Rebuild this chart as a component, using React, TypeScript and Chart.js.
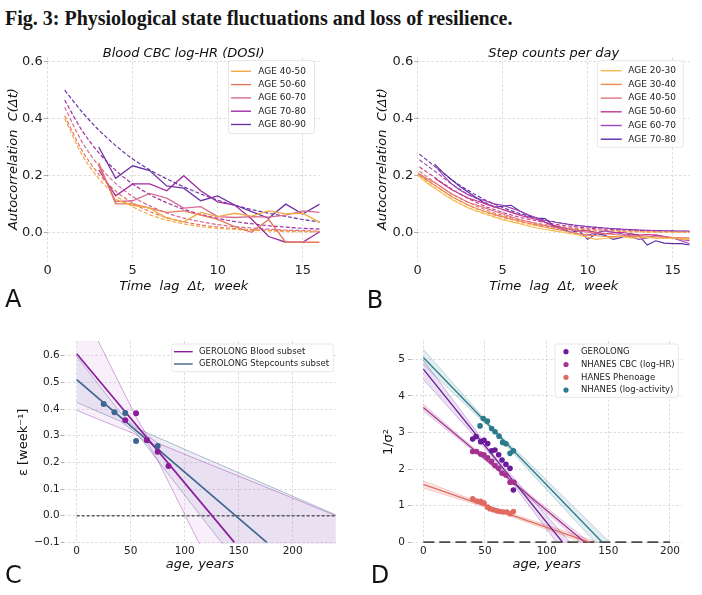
import React, { useEffect, useRef } from 'react';
import { Chart, registerables } from 'chart.js';

Chart.register(...registerables);

const SANS = '"DejaVu Sans", "Liberation Sans", sans-serif';

// ---------------- Panel A : Blood CBC log-HR (DOSI) ----------------
const A_GROUPS = ['AGE 40-50', 'AGE 50-60', 'AGE 60-70', 'AGE 70-80', 'AGE 80-90'];
const A_COLORS = ['#f2a944', '#e8765a', '#d66a95', '#a02ca2', '#6a33a6'];
const A_X_TICKS = [0, 5, 10, 15];
const A_Y_TICKS = [0, 0.2, 0.4, 0.6];
const A_LAG_OBS = [3, 4, 5, 6, 7, 8, 9, 10, 11, 12, 13, 14, 15, 16];
const A_OBS_40_50 = [null, 0.115, 0.095, 0.085, 0.05, 0.037, 0.07, 0.055, 0.067, 0.057, 0.075, 0.065, 0.067, 0.035];
const A_OBS_50_60 = [0.245, 0.1, 0.1, 0.085, 0.07, 0.075, 0.06, 0.045, 0.02, 0.0, 0.045, -0.035, -0.035, -0.035];
const A_OBS_60_70 = [0.235, 0.108, 0.111, 0.137, 0.12, 0.085, 0.09, 0.055, 0.052, 0.055, 0.053, 0.06, 0.075, 0.07];
const A_OBS_70_80 = [0.22, 0.128, 0.17, 0.17, 0.146, 0.199, 0.146, 0.107, 0.096, 0.046, -0.015, -0.035, -0.035, 0.002];
const A_OBS_80_90 = [0.3, 0.19, 0.234, 0.217, 0.163, 0.155, 0.111, 0.128, 0.096, 0.073, 0.049, 0.099, 0.064, 0.099];
const A_LAG_FIT = [1, 2, 3, 4, 5, 6, 7, 8, 9, 10, 11, 12, 13, 14, 15, 16];
const A_FIT_40_50 = [0.4, 0.275, 0.19, 0.13, 0.09, 0.062, 0.043, 0.03, 0.02, 0.014, 0.01, 0.007, 0.005, 0.003, 0.002, 0.002];
const A_FIT_50_60 = [0.41, 0.29, 0.205, 0.145, 0.103, 0.073, 0.052, 0.037, 0.026, 0.018, 0.013, 0.009, 0.007, 0.005, 0.003, 0.002];
const A_FIT_60_70 = [0.44, 0.32, 0.235, 0.172, 0.126, 0.093, 0.068, 0.05, 0.037, 0.027, 0.02, 0.015, 0.011, 0.008, 0.006, 0.004];
const A_FIT_70_80 = [0.465, 0.36, 0.28, 0.218, 0.17, 0.133, 0.104, 0.081, 0.063, 0.049, 0.038, 0.03, 0.023, 0.018, 0.014, 0.011];
const A_FIT_80_90 = [0.5, 0.425, 0.36, 0.305, 0.258, 0.22, 0.188, 0.16, 0.135, 0.113, 0.095, 0.08, 0.067, 0.056, 0.045, 0.036];
const A_OBS = [A_OBS_40_50, A_OBS_50_60, A_OBS_60_70, A_OBS_70_80, A_OBS_80_90];
const A_FIT = [A_FIT_40_50, A_FIT_50_60, A_FIT_60_70, A_FIT_70_80, A_FIT_80_90];

// ---------------- Panel B : Step counts per day ----------------
const B_GROUPS = ['AGE 20-30', 'AGE 30-40', 'AGE 40-50', 'AGE 50-60', 'AGE 60-70', 'AGE 70-80'];
const B_COLORS = ['#f5bd4f', '#ec8a4f', '#e0747d', '#c1358f', '#9b45b8', '#5c2aa5'];
const B_X_TICKS = [0, 5, 10, 15];
const B_Y_TICKS = [0, 0.2, 0.4, 0.6];
const B_LAG_OBS = [0, 0.5, 1, 1.5, 2, 2.5, 3, 3.5, 4, 4.5, 5, 5.5, 6, 6.5, 7, 7.5, 8, 8.5, 9, 9.5, 10, 10.5, 11, 11.5, 12, 12.5, 13, 13.5, 14, 14.5, 15, 15.5, 16];
const B_OBS_20_30 = [0.2, 0.175, 0.155, 0.135, 0.115, 0.1, 0.085, 0.075, 0.065, 0.055, 0.045, 0.037, 0.03, 0.022, 0.015, 0.01, 0.005, 0.0, -0.005, -0.01, -0.018, -0.025, -0.022, -0.018, -0.015, -0.02, -0.02, -0.018, -0.02, -0.022, -0.02, -0.024, -0.025];
const B_OBS_30_40 = [0.205, 0.185, 0.165, 0.145, 0.125, 0.11, 0.095, 0.083, 0.072, 0.063, 0.055, 0.047, 0.04, 0.032, 0.025, 0.018, 0.012, 0.006, 0.0, -0.005, -0.01, -0.012, -0.015, -0.015, -0.015, -0.016, -0.015, -0.017, -0.02, -0.019, -0.02, -0.02, -0.02];
const B_OBS_40_50 = [0.21, 0.19, 0.175, 0.155, 0.135, 0.12, 0.105, 0.095, 0.085, 0.075, 0.065, 0.055, 0.045, 0.038, 0.03, 0.024, 0.018, 0.013, 0.008, 0.004, 0.0, -0.003, -0.005, -0.008, -0.01, -0.011, -0.012, -0.013, -0.015, -0.016, -0.018, -0.019, -0.02];
const B_OBS_50_60 = [null, null, 0.19, 0.17, 0.15, 0.135, 0.12, 0.11, 0.1, 0.09, 0.08, 0.07, 0.06, 0.052, 0.045, 0.035, 0.025, 0.017, 0.01, 0.007, 0.005, 0.0, -0.005, -0.002, 0.0, -0.005, -0.01, -0.008, -0.01, -0.015, -0.02, -0.025, -0.03];
const B_OBS_60_70 = [null, null, 0.235, 0.2, 0.17, 0.148, 0.13, 0.12, 0.11, 0.1, 0.095, 0.085, 0.075, 0.062, 0.05, 0.035, 0.02, 0.01, 0.0, -0.005, -0.01, -0.002, 0.005, 0.0, -0.005, -0.015, -0.025, -0.02, -0.01, -0.015, -0.02, -0.03, -0.04];
const B_OBS_70_80 = [null, null, 0.24, 0.21, 0.185, 0.16, 0.14, 0.12, 0.1, 0.088, 0.092, 0.095, 0.075, 0.06, 0.05, 0.048, 0.022, 0.012, 0.0, 0.005, -0.025, -0.005, -0.01, -0.025, -0.018, -0.005, -0.01, -0.045, -0.03, -0.038, -0.04, -0.04, -0.045];
const B_LAG_FIT = [0.1, 1, 2, 3, 4, 5, 6, 7, 8, 9, 10, 11, 12, 13, 14, 15, 16];
const B_FIT_20_30 = [0.2, 0.157, 0.117, 0.086, 0.063, 0.045, 0.032, 0.022, 0.015, 0.01, 0.006, 0.004, 0.002, 0.001, 0.0, 0.0, 0.0];
const B_FIT_30_40 = [0.205, 0.166, 0.127, 0.095, 0.071, 0.052, 0.038, 0.027, 0.019, 0.013, 0.008, 0.005, 0.003, 0.002, 0.001, 0.0, 0.0];
const B_FIT_40_50 = [0.215, 0.176, 0.136, 0.104, 0.079, 0.059, 0.044, 0.032, 0.023, 0.016, 0.011, 0.007, 0.005, 0.003, 0.002, 0.001, 0.0];
const B_FIT_50_60 = [0.23, 0.193, 0.152, 0.118, 0.091, 0.07, 0.053, 0.04, 0.029, 0.021, 0.015, 0.011, 0.008, 0.006, 0.004, 0.003, 0.002];
const B_FIT_60_70 = [0.255, 0.215, 0.17, 0.133, 0.104, 0.08, 0.062, 0.047, 0.036, 0.027, 0.02, 0.015, 0.011, 0.008, 0.006, 0.005, 0.004];
const B_FIT_70_80 = [0.275, 0.232, 0.185, 0.146, 0.113, 0.087, 0.066, 0.05, 0.037, 0.027, 0.02, 0.015, 0.011, 0.008, 0.006, 0.005, 0.004];
const B_OBS = [B_OBS_20_30, B_OBS_30_40, B_OBS_40_50, B_OBS_50_60, B_OBS_60_70, B_OBS_70_80];
const B_FIT = [B_FIT_20_30, B_FIT_30_40, B_FIT_40_50, B_FIT_50_60, B_FIT_60_70, B_FIT_70_80];

// ---------------- Panel C : resilience rate vs age ----------------
const C_LABELS = ['GEROLONG Blood subset', 'GEROLONG Stepcounts subset'];
const C_COLORS = ['#8b1c9c', '#3e6690'];
const C_X_TICKS = [0, 50, 100, 150, 200];
const C_Y_TICKS = [-0.1, 0, 0.1, 0.2, 0.3, 0.4, 0.5, 0.6];
const C_BLOOD_AGE = [45, 55, 65, 75, 85];
const C_BLOOD_EPS = [0.358, 0.384, 0.283, 0.24, 0.186];
const C_STEP_AGE = [25, 35, 45, 55, 65, 75];
const C_STEP_EPS = [0.419, 0.388, 0.385, 0.28, 0.284, 0.261];
const C_BLOOD_FIT_AGE = [0, 146];
const C_BLOOD_FIT_EPS = [0.607, -0.1];
const C_STEP_FIT_AGE = [0, 176];
const C_STEP_FIT_EPS = [0.51, -0.1];
const C_ZERO_AGE = [0, 240];
const C_ZERO_EPS = [0, 0];
const C_BAND_AGE = [0, 20, 40, 50, 55, 65, 75, 90, 113, 140, 180, 240];
const C_BLOOD_UPPER = [0.817, 0.655, 0.492, 0.411, 0.37, 0.302, 0.272, 0.247, 0.209, 0.165, 0.099, 0.0];
const C_BLOOD_LOWER = [0.395, 0.362, 0.329, 0.313, 0.304, 0.275, 0.208, 0.086, -0.1, -0.32, -0.645, -1.132];
const C_STEP_UPPER = [0.597, 0.493, 0.389, 0.35, 0.33, 0.311, 0.293, 0.267, 0.226, 0.179, 0.108, 0.003];
const C_STEP_LOWER = [0.425, 0.39, 0.355, 0.325, 0.31, 0.26, 0.207, 0.129, 0.009, -0.131, -0.339, -0.651];

// ---------------- Panel D : 1/sigma^2 vs age ----------------
const D_LABELS = ['GEROLONG', 'NHANES CBC (log-HR)', 'HANES Phenoage', 'NHANES (log-activity)'];
const D_COLORS = ['#6a1a9a', '#a3338f', '#e06a5e', '#2b7b8c'];
const D_FILLS = ['rgba(106,26,154,0.13)', 'rgba(163,51,143,0.13)', 'rgba(224,106,94,0.16)', 'rgba(43,123,140,0.13)'];
const D_EDGES = ['rgba(106,26,154,0.45)', 'rgba(163,51,143,0.45)', 'rgba(224,106,94,0.5)', 'rgba(43,123,140,0.45)'];
const D_X_TICKS = [0, 50, 100, 150, 200];
const D_Y_TICKS = [0, 1, 2, 3, 4, 5];
const D_GERO_AGE = [40, 42.7, 46.5, 49.2, 52.2, 55.4, 58.1, 61.1, 63.8, 67, 70.3, 73];
const D_GERO_VAL = [2.82, 2.89, 2.75, 2.79, 2.7, 2.5, 2.52, 2.39, 2.25, 2.13, 2.02, 1.43];
const D_CBC_AGE = [40, 43.2, 46.5, 49.2, 52.2, 55.4, 58.1, 61.1, 63.8, 67, 70.3, 73.5];
const D_CBC_VAL = [2.48, 2.48, 2.41, 2.39, 2.31, 2.21, 2.1, 2.02, 1.89, 1.84, 1.64, 1.64];
const D_PHENO_AGE = [40, 43.2, 46.5, 49.2, 52.2, 54, 56.8, 59.5, 62.2, 64.9, 67.6, 70.3, 73];
const D_PHENO_VAL = [1.19, 1.13, 1.12, 1.07, 0.96, 0.92, 0.89, 0.86, 0.84, 0.83, 0.83, 0.78, 0.84];
const D_ACT_AGE = [46, 48.6, 51.9, 55.4, 58.1, 61.4, 64.3, 67, 70.3, 73];
const D_ACT_VAL = [3.18, 3.38, 3.31, 3.11, 3.02, 2.9, 2.73, 2.69, 2.43, 2.5];
const D_GERO_FIT_AGE = [0, 113];
const D_GERO_FIT_VAL = [4.73, 0];
const D_CBC_FIT_AGE = [0, 131];
const D_CBC_FIT_VAL = [3.68, 0];
const D_PHENO_FIT_AGE = [0, 135];
const D_PHENO_FIT_VAL = [1.58, 0];
const D_ACT_FIT_AGE = [0, 145];
const D_ACT_FIT_VAL = [5.05, 0];
const D_ZERO_AGE = [0, 200];
const D_ZERO_VAL = [0, 0];
const D_BAND_AGE = [0, 30, 57, 90, 120, 150];
const D_GERO_UPPER = [4.98, 3.62, 2.394, 1.11, -0.04, -1.25];
const D_GERO_LOWER = [4.45, 3.33, 2.294, 0.81, -0.55, -1.85];
const D_CBC_UPPER = [3.77, 2.89, 2.109, 1.21, 0.4, -0.41];
const D_CBC_LOWER = [3.59, 2.78, 2.049, 1.09, 0.22, -0.66];
const D_PHENO_UPPER = [1.68, 1.29, 0.943, 0.58, 0.245, -0.09];
const D_PHENO_LOWER = [1.48, 1.17, 0.883, 0.47, 0.11, -0.26];
const D_ACT_UPPER = [5.27, 4.12, 3.105, 2.03, 1.03, 0.04];
const D_ACT_LOWER = [4.85, 3.89, 3.025, 1.8, 0.71, -0.39];

// ---------------- helpers ----------------
const xy = (xs: number[], ys: (number | null)[]) => xs.map((x, i) => ({ x, y: ys[i] }));

function lineDs(label: string, data: any[], color: string, extra: any = {}) {
  return {
    label,
    data,
    borderColor: color,
    backgroundColor: color,
    borderWidth: 1.3,
    pointRadius: 0,
    fill: false,
    tension: 0,
    ...extra,
  };
}

function dotDs(label: string, data: any[], color: string, r: number) {
  return {
    label,
    data,
    showLine: false,
    pointRadius: r,
    pointBorderWidth: 0,
    pointBackgroundColor: color,
    borderColor: color,
    backgroundColor: color,
    order: 0,
  };
}

type AxisSpec = {
  axis: 'x' | 'y';
  min: number;
  max: number;
  ticks: number[];
  fmt: (v: number) => string;
  size: number;
  tickFont: number;
  tickPad: number;
  tickLen: number;
  title: string;
  titleFont: number;
  titlePad: number;
  italic: boolean;
};

function linAxis(p: AxisSpec) {
  return {
    type: 'linear',
    position: p.axis === 'x' ? 'bottom' : 'left',
    min: p.min,
    max: p.max,
    afterBuildTicks: (s: any) => {
      s.ticks = p.ticks.map((v) => ({ value: v }));
    },
    afterFit: (s: any) => {
      if (p.axis === 'x') s.height = p.size;
      else s.width = p.size;
    },
    ticks: {
      autoSkip: false,
      maxRotation: 0,
      padding: p.tickPad,
      color: '#222',
      font: { family: SANS, size: p.tickFont },
      callback: (v: any) => p.fmt(Number(v)),
    },
    grid: {
      color: 'rgba(0,0,0,0.17)',
      lineWidth: 0.8,
      drawTicks: p.tickLen > 0,
      tickLength: p.tickLen,
      tickColor: 'rgba(0,0,0,0.4)',
      tickWidth: 0.8,
    },
    border: { display: false, dash: [2.5, 2] },
    title: {
      display: true,
      text: p.title,
      color: '#111',
      font: { family: SANS, size: p.titleFont, style: p.italic ? 'italic' : 'normal', weight: 'normal' },
      padding: p.axis === 'x' ? { top: 0, bottom: p.titlePad } : { top: p.titlePad, bottom: 0 },
    },
  };
}

type LegendSpec = {
  right: number;
  top: number;
  width: number;
  height: number;
  firstRow: number;
  rowStep: number;
  markX: number;
  markLen: number;
  textX: number;
  fontSize: number;
  kind: 'line' | 'dot';
  labels: string[];
  colors: string[];
};

function boxLegend(spec: LegendSpec) {
  return {
    id: 'boxLegend',
    afterDraw(chart: any) {
      const { ctx, chartArea } = chart;
      const bx = chartArea.right - spec.right - spec.width;
      const by = chartArea.top + spec.top;
      const w = spec.width;
      const h = spec.height;
      const r = 2.5;
      ctx.save();
      ctx.beginPath();
      ctx.moveTo(bx + r, by);
      ctx.lineTo(bx + w - r, by);
      ctx.arcTo(bx + w, by, bx + w, by + r, r);
      ctx.lineTo(bx + w, by + h - r);
      ctx.arcTo(bx + w, by + h, bx + w - r, by + h, r);
      ctx.lineTo(bx + r, by + h);
      ctx.arcTo(bx, by + h, bx, by + h - r, r);
      ctx.lineTo(bx, by + r);
      ctx.arcTo(bx, by, bx + r, by, r);
      ctx.closePath();
      ctx.fillStyle = 'rgba(255,255,255,0.85)';
      ctx.fill();
      ctx.strokeStyle = 'rgba(0,0,0,0.12)';
      ctx.lineWidth = 0.8;
      ctx.stroke();
      ctx.font = `${spec.fontSize}px ${SANS}`;
      ctx.textBaseline = 'middle';
      ctx.textAlign = 'left';
      spec.labels.forEach((t, i) => {
        const cy = by + spec.firstRow + i * spec.rowStep;
        if (spec.kind === 'line') {
          ctx.strokeStyle = spec.colors[i];
          ctx.lineWidth = 1.4;
          ctx.setLineDash([]);
          ctx.beginPath();
          ctx.moveTo(bx + spec.markX, cy);
          ctx.lineTo(bx + spec.markX + spec.markLen, cy);
          ctx.stroke();
        } else {
          ctx.fillStyle = spec.colors[i];
          ctx.beginPath();
          ctx.arc(bx + spec.markX, cy, 2.6, 0, Math.PI * 2);
          ctx.fill();
        }
        ctx.fillStyle = '#222';
        ctx.fillText(t, bx + spec.textX, cy);
      });
      ctx.restore();
    },
  };
}

const fmt1 = (v: number) => (v < 0 ? '\u2212' : '') + Math.abs(v).toFixed(1);
const fmt0 = (v: number) => String(v);

function baseOptions(padRight: number, padTop: number, scales: any, title?: string) {
  return {
    animation: false,
    responsive: false,
    events: [],
    layout: { padding: { top: padTop, right: padRight, bottom: 0, left: 0 } },
    plugins: {
      legend: { display: false },
      tooltip: { enabled: false },
      title: title
        ? {
            display: true,
            text: title,
            fullSize: false,
            color: '#111',
            font: { family: SANS, size: 13, style: 'italic', weight: 'normal', lineHeight: 1 },
            padding: { top: 17, bottom: -2.5 },
          }
        : { display: false },
    },
    scales,
  };
}

// ---------------- chart configs ----------------
function makeA() {
  const datasets: any[] = [];
  A_OBS.forEach((ys, i) =>
    datasets.push(lineDs(A_GROUPS[i], xy(A_LAG_OBS, ys), A_COLORS[i], { borderWidth: 1.3 }))
  );
  A_FIT.forEach((ys, i) =>
    datasets.push(
      lineDs(A_GROUPS[i] + ' fit', xy(A_LAG_FIT, ys), A_COLORS[i], {
        borderWidth: 1.2,
        borderDash: [4, 2],
        cubicInterpolationMode: 'monotone',
      })
    )
  );
  return {
    type: 'line',
    data: { datasets },
    options: baseOptions(20.3, 0, {
      x: linAxis({ axis: 'x', min: 0, max: 16, ticks: A_X_TICKS, fmt: fmt0, size: 44.3, tickFont: 13, tickPad: 2.5, tickLen: 0, title: 'Time  lag  \u0394t,  week', titleFont: 13, titlePad: 10.2, italic: true }),
      y: linAxis({ axis: 'y', min: -0.1, max: 0.615, ticks: A_Y_TICKS, fmt: fmt1, size: 47.7, tickFont: 13, tickPad: 1, tickLen: 4, title: 'Autocorrelation  C(\u0394t)', titleFont: 13, titlePad: 5.5, italic: true }),
    }, 'Blood CBC log-HR (DOSI)'),
    plugins: [
      boxLegend({ right: 5.2, top: 3, width: 86, height: 73, firstRow: 10.8, rowStep: 13.3, markX: 2.5, markLen: 20, textX: 29.8, fontSize: 9, kind: 'line', labels: A_GROUPS, colors: A_COLORS }),
    ],
  };
}

function makeB() {
  const datasets: any[] = [];
  B_OBS.forEach((ys, i) =>
    datasets.push(lineDs(B_GROUPS[i], xy(B_LAG_OBS, ys), B_COLORS[i], { borderWidth: 1.1 }))
  );
  B_FIT.forEach((ys, i) =>
    datasets.push(
      lineDs(B_GROUPS[i] + ' fit', xy(B_LAG_FIT, ys), B_COLORS[i], {
        borderWidth: 1.1,
        borderDash: [4, 2],
        cubicInterpolationMode: 'monotone',
      })
    )
  );
  return {
    type: 'line',
    data: { datasets },
    options: baseOptions(12.3, 0, {
      x: linAxis({ axis: 'x', min: 0, max: 16, ticks: B_X_TICKS, fmt: fmt0, size: 44.3, tickFont: 13, tickPad: 2.5, tickLen: 0, title: 'Time  lag  \u0394t,  week', titleFont: 13, titlePad: 10.2, italic: true }),
      y: linAxis({ axis: 'y', min: -0.1, max: 0.615, ticks: B_Y_TICKS, fmt: fmt1, size: 66.7, tickFont: 13, tickPad: 1, tickLen: 3.5, title: 'Autocorrelation  C(\u0394t)', titleFont: 13, titlePad: 23.5, italic: true }),
    }, 'Step counts per day'),
    plugins: [
      boxLegend({ right: 6.4, top: 3.2, width: 86, height: 86.6, firstRow: 10, rowStep: 13.7, markX: 3.4, markLen: 21, textX: 31, fontSize: 9, kind: 'line', labels: B_GROUPS, colors: B_COLORS }),
    ],
  };
}

function makeC() {
  const datasets: any[] = [
    dotDs(C_LABELS[0] + ' data', xy(C_BLOOD_AGE, C_BLOOD_EPS), C_COLORS[0], 3),
    dotDs(C_LABELS[1] + ' data', xy(C_STEP_AGE, C_STEP_EPS), C_COLORS[1], 3),
    lineDs(C_LABELS[0], xy(C_BLOOD_FIT_AGE, C_BLOOD_FIT_EPS), C_COLORS[0], { borderWidth: 1.7, order: 1 }),
    lineDs(C_LABELS[1], xy(C_STEP_FIT_AGE, C_STEP_FIT_EPS), C_COLORS[1], { borderWidth: 1.7, order: 1 }),
    lineDs('zero', xy(C_ZERO_AGE, C_ZERO_EPS), '#5a5a5a', { borderWidth: 1.6, borderDash: [3, 2], order: 1 }),
    lineDs('blood upper', xy(C_BAND_AGE, C_BLOOD_UPPER), 'rgba(150,50,170,0.6)', { borderWidth: 0.7, order: 2 }),
    lineDs('blood lower', xy(C_BAND_AGE, C_BLOOD_LOWER), 'rgba(150,50,170,0.6)', { borderWidth: 0.7, order: 2, fill: 5, backgroundColor: 'rgba(200,120,215,0.12)' }),
    lineDs('steps upper', xy(C_BAND_AGE, C_STEP_UPPER), 'rgba(62,102,144,0.6)', { borderWidth: 0.7, order: 3 }),
    lineDs('steps lower', xy(C_BAND_AGE, C_STEP_LOWER), 'rgba(62,102,144,0.6)', { borderWidth: 0.7, order: 3, fill: 7, backgroundColor: 'rgba(80,90,160,0.10)' }),
  ];
  return {
    type: 'line',
    data: { datasets },
    options: baseOptions(14.1, 11, {
      x: linAxis({ axis: 'x', min: -12, max: 240, ticks: C_X_TICKS, fmt: fmt0, size: 51.3, tickFont: 10.5, tickPad: 1.7, tickLen: 0, title: 'age, years', titleFont: 13, titlePad: 22.2, italic: true }),
      y: linAxis({ axis: 'y', min: -0.105, max: 0.655, ticks: C_Y_TICKS, fmt: fmt1, size: 63.7, tickFont: 10.5, tickPad: 1, tickLen: 3, title: '\u03b5 [week\u207b\u00b9]', titleFont: 13, titlePad: 15.5, italic: false }),
    }),
    plugins: [
      boxLegend({ right: 2.6, top: 3, width: 161.6, height: 27.7, firstRow: 7.7, rowStep: 12.3, markX: 2.3, markLen: 18.7, textX: 27.3, fontSize: 8.5, kind: 'line', labels: C_LABELS, colors: C_COLORS }),
    ],
  };
}

function makeD() {
  const pts = [
    [D_GERO_AGE, D_GERO_VAL],
    [D_CBC_AGE, D_CBC_VAL],
    [D_PHENO_AGE, D_PHENO_VAL],
    [D_ACT_AGE, D_ACT_VAL],
  ];
  const fits = [
    [D_GERO_FIT_AGE, D_GERO_FIT_VAL],
    [D_CBC_FIT_AGE, D_CBC_FIT_VAL],
    [D_PHENO_FIT_AGE, D_PHENO_FIT_VAL],
    [D_ACT_FIT_AGE, D_ACT_FIT_VAL],
  ];
  const bands = [
    [D_GERO_UPPER, D_GERO_LOWER],
    [D_CBC_UPPER, D_CBC_LOWER],
    [D_PHENO_UPPER, D_PHENO_LOWER],
    [D_ACT_UPPER, D_ACT_LOWER],
  ];
  const datasets: any[] = [];
  pts.forEach(([xs, ys], i) => datasets.push(dotDs(D_LABELS[i], xy(xs, ys), D_COLORS[i], 2.8)));
  fits.forEach(([xs, ys], i) =>
    datasets.push(lineDs(D_LABELS[i] + ' fit', xy(xs, ys), D_COLORS[i], { borderWidth: 1.3, order: 1 }))
  );
  datasets.push(lineDs('zero', xy(D_ZERO_AGE, D_ZERO_VAL), '#4a4a4a', { borderWidth: 2, borderDash: [11, 5], order: 1 }));
  bands.forEach(([up, lo], i) => {
    const upIndex = datasets.length;
    datasets.push(lineDs(D_LABELS[i] + ' upper', xy(D_BAND_AGE, up), D_EDGES[i], { borderWidth: 0.6, order: 2 + i }));
    datasets.push(
      lineDs(D_LABELS[i] + ' lower', xy(D_BAND_AGE, lo), D_EDGES[i], { borderWidth: 0.6, order: 2 + i, fill: upIndex, backgroundColor: D_FILLS[i] })
    );
  });
  return {
    type: 'line',
    data: { datasets },
    options: baseOptions(19.7, 11, {
      x: linAxis({ axis: 'x', min: -10, max: 210, ticks: D_X_TICKS, fmt: fmt0, size: 52, tickFont: 10.5, tickPad: 2.4, tickLen: 0, title: 'age, years', titleFont: 13, titlePad: 22.2, italic: true }),
      y: linAxis({ axis: 'y', min: -0.019, max: 5.5, ticks: D_Y_TICKS, fmt: fmt0, size: 60, tickFont: 10.5, tickPad: 3, tickLen: 3, title: '1/\u03c3\u00b2', titleFont: 13, titlePad: 29.5, italic: false }),
    }),
    plugins: [
      boxLegend({ right: 4, top: 3, width: 123.3, height: 53.3, firstRow: 7.7, rowStep: 12.8, markX: 11, markLen: 0, textX: 26, fontSize: 8.5, kind: 'dot', labels: D_LABELS, colors: D_COLORS }),
    ],
  };
}

// ---------------- components ----------------
function ChartBox({ left, top, width, height, make }: { left: number; top: number; width: number; height: number; make: () => any }) {
  const ref = useRef<HTMLCanvasElement>(null);
  useEffect(() => {
    if (!ref.current) return;
    const chart = new Chart(ref.current, make());
    return () => chart.destroy();
  }, []);
  return (
    <canvas
      ref={ref}
      width={width}
      height={height}
      style={{ position: 'absolute', left, top, width, height }}
    />
  );
}

function Letter({ x, y, text }: { x: number; y: number; text: string }) {
  return (
    <div
      style={{
        position: 'absolute',
        left: x,
        top: y,
        transform: 'translate(-50%, -50%)',
        font: `24px ${SANS}`,
        lineHeight: '24px',
        color: '#111',
      }}
    >
      {text}
    </div>
  );
}

export default function App() {
  return (
    <div
      style={{
        position: 'fixed',
        left: 0,
        top: 0,
        width: 702,
        height: 595,
        background: '#fff',
        overflow: 'hidden',
      }}
    >
      <div
        style={{
          position: 'absolute',
          left: 5,
          top: 7,
          font: 'bold 20px "Liberation Serif", serif',
          lineHeight: '22px',
          whiteSpace: 'nowrap',
          color: '#151515',
        }}
      >
        Fig. 3: Physiological state fluctuations and loss of resilience.
      </div>
      <ChartBox left={0} top={30} width={340} height={275} make={makeA} />
      <ChartBox left={351} top={30} width={351} height={275} make={makeB} />
      <ChartBox left={0} top={330} width={350} height={265} make={makeC} />
      <ChartBox left={351} top={330} width={351} height={265} make={makeD} />
      <Letter x={13.3} y={298.5} text="A" />
      <Letter x={375} y={300} text="B" />
      <Letter x={13.3} y={575} text="C" />
      <Letter x={380} y={575} text="D" />
    </div>
  );
}
